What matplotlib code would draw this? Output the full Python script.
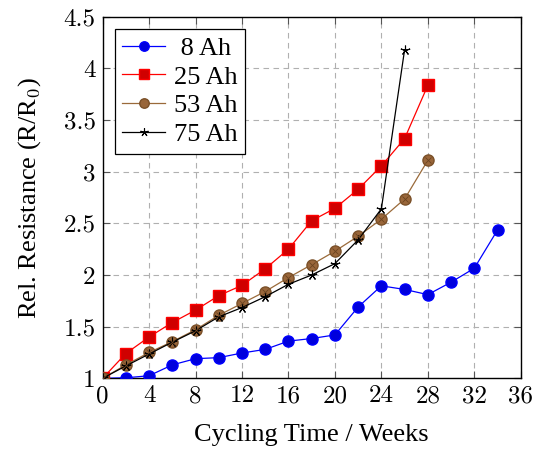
import matplotlib as mpl
mpl.use('Agg')
from matplotlib import pyplot as plt

# cycling time in weeks and relative resistance per cell size
weeks_8 = [0, 2, 4, 6, 8, 10, 12, 14, 16, 18, 20, 22, 24, 26, 28, 30, 32, 34]
res_8 = [1.0, 1.005, 1.025, 1.13, 1.19, 1.20, 1.245, 1.28, 1.36, 1.385, 1.42,
         1.69, 1.895, 1.86, 1.81, 1.93, 2.065, 2.435]
weeks_25 = [0, 2, 4, 6, 8, 10, 12, 14, 16, 18, 20, 22, 24, 26, 28]
res_25 = [1.0, 1.24, 1.40, 1.54, 1.66, 1.80, 1.90, 2.06, 2.25, 2.525, 2.645,
          2.83, 3.055, 3.32, 3.835]
weeks_53 = [0, 2, 4, 6, 8, 10, 12, 14, 16, 18, 20, 22, 24, 26, 28]
res_53 = [1.0, 1.13, 1.25, 1.355, 1.47, 1.61, 1.725, 1.84, 1.975, 2.10, 2.23,
          2.375, 2.54, 2.735, 3.11]
weeks_75 = [0, 2, 4, 6, 8, 10, 12, 14, 16, 18, 20, 22, 24, 26]
res_75 = [1.0, 1.12, 1.235, 1.35, 1.46, 1.595, 1.685, 1.79, 1.91, 2.0, 2.11,
          2.34, 2.64, 4.18]

xticks = list(range(0, 37, 4))
yticks = [1, 1.5, 2, 2.5, 3, 3.5, 4, 4.5]
ytick_labels = ['1', '1.5', '2', '2.5', '3', '3.5', '4', '4.5']

# Times-like text, Computer Modern numbers (as in the LaTeX original)
plt.rcParams['font.family'] = ['Liberation Serif', 'DejaVu Serif']
plt.rcParams['mathtext.fontset'] = 'cm'

fig = plt.figure(figsize=(5.43, 4.5), dpi=100)
ax = fig.add_axes([0.189, 0.1593, 0.770, 0.8037])

# leading space: the 8 Ah label sits slightly indented in the original
ax.plot(weeks_8, res_8, color='blue', lw=0.9, marker='o', ms=8,
        mfc='#0000dd', mec='blue', label=' 8 Ah', zorder=3)
ax.plot(weeks_25, res_25, color='red', lw=0.9, marker='s', ms=8,
        mfc='#d00000', mec='red', label='25 Ah', zorder=3)
ax.plot(weeks_53, res_53, color='#9a6a3a', lw=0.9, marker='o', ms=8,
        mfc='#99663a', mec='#7a5028', label='53 Ah', zorder=3)
ax.plot(weeks_53, res_53, ls='none', marker='x', ms=5, mec='#6b4420',
        mew=0.6, zorder=4)
ax.plot(weeks_75, res_75, color='black', lw=0.9, marker=(5, 2, 0), ms=7,
        mec='black', mew=0.8, label='75 Ah', zorder=3)

ax.set_xlim(0, 36)
ax.set_ylim(1, 4.5)
ax.set_xticks(xticks)
ax.set_yticks(yticks)
ax.set_xticklabels([str(t) for t in xticks], fontfamily='cmr10', fontsize=18)
ax.set_yticklabels(ytick_labels, fontfamily='cmr10', fontsize=18)
ax.grid(True, color='#b0b0b0', ls=(0, (5, 4)), lw=0.8)
ax.tick_params(direction='in', top=True, right=True, length=5,
               color='#555555', labelcolor='black', pad=5)
for s in ax.spines.values():
    s.set_linewidth(1.0)

ax.set_xlabel('Cycling Time / Weeks', fontsize=19, labelpad=12)
ax.set_ylabel(r'Rel. Resistance (R/R$_\mathrm{0}$)', fontsize=19, labelpad=15)

leg = ax.legend(loc='upper left', fontsize=19, frameon=True, fancybox=False,
                edgecolor='black', framealpha=1, handlelength=1.6,
                borderaxespad=0.45, labelspacing=0.2, handletextpad=0.35,
                borderpad=0.3, markerscale=0.85)
leg.get_frame().set_linewidth(0.9)

fig.savefig('out.png', dpi=100)
